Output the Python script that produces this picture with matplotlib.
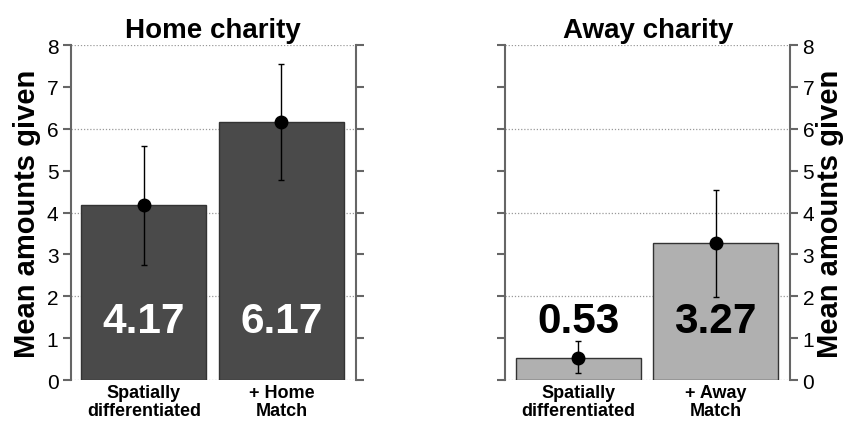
import matplotlib.pyplot as plt
import numpy as np

plt.rcParams['font.family'] = ['Liberation Sans', 'DejaVu Sans']

# data
home_labels = ["Spatially\ndifferentiated", "+ Home\nMatch"]
home_means = [4.17, 6.17]
home_low = [2.75, 4.77]
home_high = [5.60, 7.56]

away_labels = ["Spatially\ndifferentiated", "+ Away\nMatch"]
away_means = [0.53, 3.27]
away_low = [0.16, 1.98]
away_high = [0.93, 4.53]

fig = plt.figure(figsize=(8.45, 4.31), dpi=100)
ax1 = fig.add_axes([0.084, 0.116, 0.337, 0.777])
ax2 = fig.add_axes([0.598, 0.116, 0.337, 0.777])


def draw_panel(ax, title, labels, means, low, high, color, txt_colors, ylabel_side):
    x = np.arange(len(means))
    ax.bar(x, means, width=0.91, color=color, edgecolor="#333333", linewidth=1, zorder=2)
    means = np.array(means)
    err = [means - np.array(low), np.array(high) - means]
    ax.errorbar(x, means, yerr=err, fmt="o", color="black", markersize=9,
                elinewidth=1, capsize=2.5, capthick=1, zorder=3)
    ax.set_xlim(-0.53, 1.54)
    ax.set_ylim(0, 8)
    ax.set_yticks(range(0, 9))
    for y in [0, 2, 4, 6, 8]:
        ax.axhline(y, color="#999999", linestyle=(0, (1, 1.5)), linewidth=0.9, zorder=1)
    ax.set_xticks(x)
    ax.set_xticklabels(labels, fontsize=13, fontweight="bold", linespacing=1.1)
    ax.tick_params(axis="x", length=0, pad=3)
    ax.tick_params(axis="y", which="both", direction="out", length=6, width=1.5,
                   color="#666666", labelsize=15, left=True, right=True, pad=3)
    for s in ["top", "bottom"]:
        ax.spines[s].set_visible(False)
    for s in ["left", "right"]:
        ax.spines[s].set_color("#666666")
        ax.spines[s].set_linewidth(1.5)
    if ylabel_side == "left":
        ax.tick_params(axis="y", labelleft=True, labelright=False)
        ax.set_ylabel("Mean amounts given", fontsize=21, fontweight="bold", labelpad=4)
    else:
        ax.tick_params(axis="y", labelleft=False, labelright=True)
        ax.yaxis.set_label_position("right")
        ax.set_ylabel("Mean amounts given", fontsize=21, fontweight="bold",
                      rotation=90, labelpad=1)
    ax.set_title(title, fontsize=20, fontweight="bold", pad=6)
    for xi, m, c in zip(x, means, txt_colors):
        ax.text(xi, 1.4, f"{m:.2f}", ha="center", va="center", fontsize=30.5,
                fontweight="bold", color=c, zorder=4)


draw_panel(ax1, "Home charity", home_labels, home_means, home_low, home_high,
           "#4a4a4a", ["white", "white"], "left")
draw_panel(ax2, "Away charity", away_labels, away_means, away_low, away_high,
           "#b0b0b0", ["black", "black"], "right")

fig.savefig("out.png", dpi=100)
